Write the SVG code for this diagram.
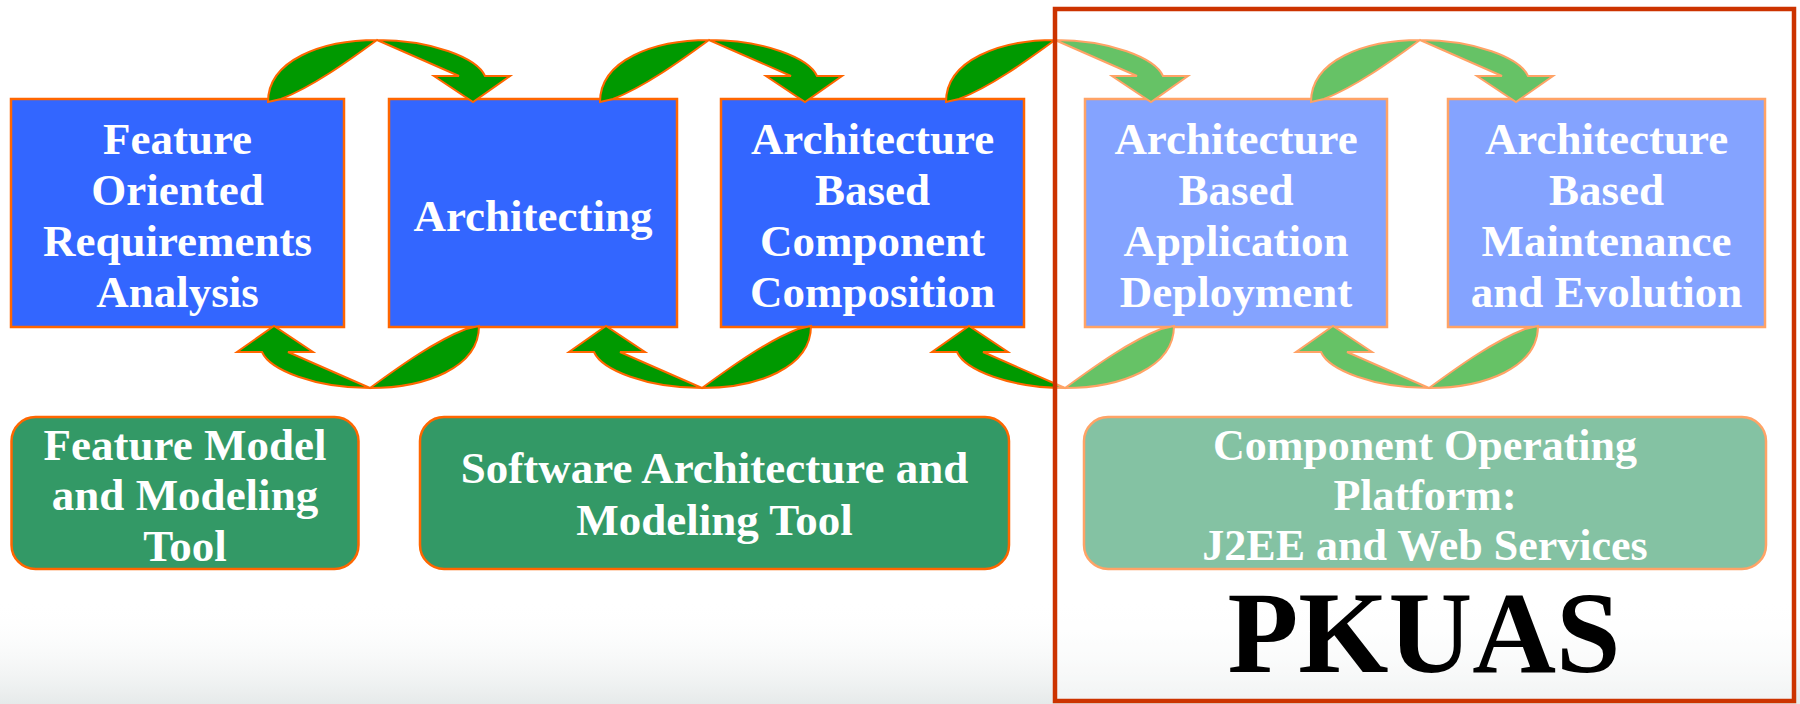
<svg xmlns="http://www.w3.org/2000/svg" width="1800" height="704" viewBox="0 0 1800 704">
<defs>
<linearGradient id="bg" x1="0" y1="0" x2="0" y2="1">
<stop offset="0" stop-color="#ffffff" stop-opacity="0"/>
<stop offset="1" stop-color="#e6eaea" stop-opacity="1"/>
</linearGradient>
<path id="arr" d="M -109,62 C -109,20 -55,0 0,0 C 55,0 100,18 108,36 L 133,36 L 96,62 L 57,36 L 82,36 L 0,0 C -30,22 -65,47 -96,59 Z"/>
</defs>
<style>
.box{fill:#3366ff;stroke:#ff6600;stroke-width:2.5}
.rbox{fill:#339966;stroke:#ff6600;stroke-width:2.5}
.arrow{fill:#009900;stroke:#ff6600;stroke-width:2;stroke-linejoin:miter}
.t{font-family:"Liberation Serif","Times New Roman",serif;font-weight:bold;font-size:45px;fill:#ffffff;text-anchor:middle}
.tn{font-family:"Liberation Serif","Times New Roman",serif;font-weight:bold;font-size:44px;fill:#ffffff;text-anchor:middle}
.big{font-family:"Liberation Serif","Times New Roman",serif;font-weight:bold;font-size:116px;fill:#000000;text-anchor:middle}
</style>
<rect x="0" y="0" width="1800" height="704" fill="#ffffff"/>
<rect x="0" y="600" width="1800" height="104" fill="url(#bg)"/>

<g id="node-fora">
<rect class="box" x="11" y="99" width="333" height="228"/>
<text class="t" x="177.5" y="154">Feature</text>
<text class="t" x="177.5" y="205">Oriented</text>
<text class="t" x="177.5" y="256">Requirements</text>
<text class="t" x="177.5" y="307">Analysis</text>
</g>
<g id="node-architecting">
<rect class="box" x="389" y="99" width="288" height="228"/>
<text class="t" x="533" y="231">Architecting</text>
</g>
<g id="node-abcc">
<rect class="box" x="721" y="99" width="303" height="228"/>
<text class="t" x="872.5" y="154">Architecture</text>
<text class="t" x="872.5" y="205">Based</text>
<text class="t" x="872.5" y="256">Component</text>
<text class="t" x="872.5" y="307">Composition</text>
</g>
<g id="node-abad">
<rect class="box" x="1085" y="99" width="302" height="228"/>
<text class="t" x="1236" y="154">Architecture</text>
<text class="t" x="1236" y="205">Based</text>
<text class="t" x="1236" y="256">Application</text>
<text class="t" x="1236" y="307">Deployment</text>
</g>
<g id="node-abme">
<rect class="box" x="1448" y="99" width="317" height="228"/>
<text class="t" x="1606.5" y="154">Architecture</text>
<text class="t" x="1606.5" y="205">Based</text>
<text class="t" x="1606.5" y="256">Maintenance</text>
<text class="t" x="1606.5" y="307">and Evolution</text>
</g>

<g id="node-feature-model">
<rect class="rbox" x="11.5" y="417" width="347" height="152" rx="24" ry="24"/>
<text class="t" x="185" y="460">Feature Model</text>
<text class="t" x="185" y="510">and Modeling</text>
<text class="t" x="185" y="561">Tool</text>
</g>
<g id="node-sa-tool">
<rect class="rbox" x="420" y="417" width="589" height="152" rx="24" ry="24"/>
<text class="t" x="714.5" y="483">Software Architecture and</text>
<text class="t" x="714.5" y="535">Modeling Tool</text>
</g>
<g id="node-platform">
<rect class="rbox" x="1084" y="417" width="682" height="152" rx="24" ry="24"/>
<text class="tn" x="1425" y="460">Component Operating</text>
<text class="tn" x="1425" y="510">Platform:</text>
<text class="tn" x="1425" y="560">J2EE and Web Services</text>
</g>

<g id="connectors">
<use href="#arr" class="arrow" transform="translate(377,40)"/>
<use href="#arr" class="arrow" transform="translate(709,40)"/>
<use href="#arr" class="arrow" transform="translate(1055,40)"/>
<use href="#arr" class="arrow" transform="translate(1420,40)"/>
<use href="#arr" class="arrow" transform="translate(370,388) rotate(180)"/>
<use href="#arr" class="arrow" transform="translate(702,388) rotate(180)"/>
<use href="#arr" class="arrow" transform="translate(1065,388) rotate(180)"/>
<use href="#arr" class="arrow" transform="translate(1429,388) rotate(180)"/>
</g>

<g id="pkuas">
<rect x="1055" y="9" width="739" height="692" fill="#ffffff" fill-opacity="0.4" stroke="#cc3300" stroke-width="4.5"/>
<text class="big" x="1424" y="672">PKUAS</text>
</g>
</svg>
